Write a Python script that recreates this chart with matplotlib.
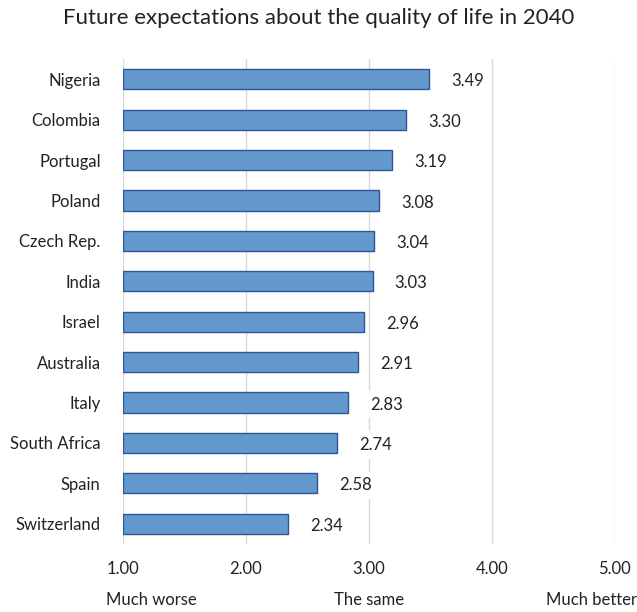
import matplotlib.pyplot as plt

countries = ["Nigeria", "Colombia", "Portugal", "Poland", "Czech Rep.", "India",
             "Israel", "Australia", "Italy", "South Africa", "Spain", "Switzerland"]
scores = [3.49, 3.30, 3.19, 3.08, 3.04, 3.03, 2.96, 2.91, 2.83, 2.74, 2.58, 2.34]
ticks = [1, 2, 3, 4, 5]
scale_words = ["Much worse", "The same", "Much better"]

plt.rcParams['font.family'] = ['Lato', 'DejaVu Sans']

fig = plt.figure(figsize=(6.37, 6.12), dpi=100)
ax = fig.add_axes([0.193, 1 - 544 / 612, 0.772, (544 - 59) / 612])

ypos = list(range(len(countries)))
ax.barh(ypos, [s - 1 for s in scores], left=1, height=0.5,
        color="#6399cd", edgecolor="#2f5597", linewidth=1.0, zorder=3)

# value labels sit on small white boxes that hide the gridlines
for y, s in zip(ypos, scores):
    ax.annotate(f"{s:.2f}", xy=(s, y), xytext=(16, -1.5), textcoords="offset points",
                ha="left", va="center", fontsize=12, color="#222222", zorder=4,
                bbox=dict(boxstyle="square,pad=0.35", fc="white", ec="none"))

ax.set_xlim(1, 5)
ax.set_ylim(len(countries) - 0.5, -0.5)
ax.set_xticks(ticks)
ax.set_xticklabels([f"{t:.2f}" for t in ticks], fontsize=12, color="#222222")
ax.set_yticks(ypos)
ax.set_yticklabels(countries, fontsize=12, color="#222222")
ax.tick_params(length=0, pad=16)
ax.tick_params(axis="x", pad=12)
ax.xaxis.grid(True, color="#d9d9d9", linewidth=1, zorder=0)
for sp in ax.spines.values():
    sp.set_visible(False)

# scale descriptions under the tick labels
for word, xf in zip(scale_words, [151, 369, 591]):
    fig.text(xf / 637, 1 - 600 / 612, word, ha="center", va="center",
             fontsize=12, color="#222222")

fig.text(0.5, 1 - 18 / 612, "Future expectations about the quality of life in 2040",
         ha="center", va="center", fontsize=16, color="#222222")

fig.savefig("out.png", dpi=100)
